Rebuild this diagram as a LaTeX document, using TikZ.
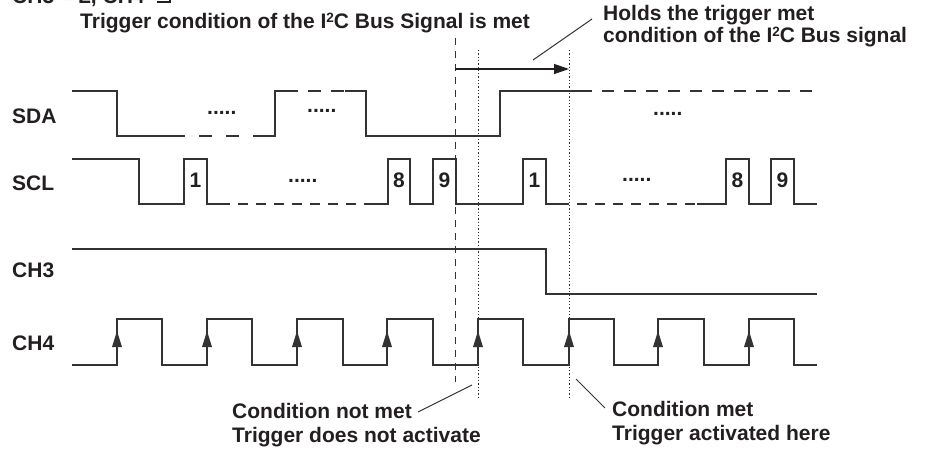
\documentclass[tikz,border=0pt]{standalone}
\usepackage{fontspec}
\setmainfont{Liberation Sans}
\usetikzlibrary{arrows.meta}
\definecolor{wavec}{HTML}{333333}
\definecolor{txtc}{HTML}{231F20}
\newcommand{\suptwo}{\raisebox{5.3pt}{\fontsize{13.5}{13.5}\selectfont 2}}
\begin{document}
\begin{tikzpicture}[x=1pt,y=-1pt,
  wave/.style={line width=1.3pt, draw=wavec, line join=miter},
  wdash/.style={wave, dash pattern=on 12pt off 10pt, dash phase=12pt},
  vdash/.style={line width=1pt, draw=wavec, dash pattern=on 7pt off 6pt},
  vdot/.style={line width=1pt, draw=wavec, dash pattern=on 1.3pt off 2pt},
  leader/.style={line width=1pt, draw=wavec},
  txt/.style={inner sep=0pt, anchor=base west, text=txtc, font=\fontsize{21}{24}\bfseries\selectfont},
  ctxt/.style={txt, anchor=base}]
\useasboundingbox (0,0) rectangle (926,450);
\clip (0,0) rectangle (926,450);

% top-left clipped text
\node[txt] (hdr) at (12,3) {CH3 = L, CH4 = };
\draw[line width=1.6pt, draw=txtc] (157,2) -- (170,2) -- (170,-20) -- (185,-20);

% titles
\node[txt] (t1) at (80,28) {Trigger condition of the I\suptwo C Bus Signal is met};
\node[txt] (h1) at (603,20) {Holds the trigger met};
\node[txt] (h2) at (603,42) {condition of the I\suptwo C Bus signal};

% channel labels
\node[txt] (lsda) at (12,123) {SDA};
\node[txt] (lscl) at (12,190) {SCL};
\node[txt] (lch3) at (12,277) {CH3};
\node[txt] (lch4) at (12,350) {CH4};

% SDA
\draw[wave] (72,91) -- (117,91) -- (117,136) -- (185,136);
\draw[wdash, dash pattern=on 13pt off 14pt, dash phase=13pt] (185,136) -- (253,136);
\draw[wave] (253,136) -- (275,136) -- (275,91) -- (298,91);
\draw[wdash, dash pattern=on 13pt off 10pt, dash phase=13pt] (298,91) -- (345,91);
\draw[wave] (345,91) -- (366,91) -- (366,136) -- (500,136) -- (500,91) -- (592,91);
\draw[wdash] (592,91) -- (818,91);
\node[txt] (d1) at (207,114) {.....};
\node[txt] (d2) at (307,112) {.....};
\node[txt] (d3) at (653,115) {.....};

% SCL
\draw[wave] (72,159) -- (139,159) -- (139,204) -- (184,204) -- (184,159) -- (207,159) -- (207,204) -- (230,204);
\draw[wdash, dash pattern=on 10pt off 8pt, dash phase=10pt] (230,204) -- (367,204);
\draw[wave] (367,204) -- (388,204) -- (388,159) -- (410,159) -- (410,204) -- (433,204) -- (433,159) -- (456,159) -- (456,204) -- (523,204) -- (523,159) -- (546,159) -- (546,204) -- (569,204);
\draw[wdash, dash pattern=on 10pt off 8pt, dash phase=10pt] (569,204) -- (697,204);
\draw[wave] (697,204) -- (726,204) -- (726,159) -- (749,159) -- (749,204) -- (771,204) -- (771,159) -- (794,159) -- (794,204) -- (817,204);
\node[ctxt] (n1a) at (195.5,187) {1};
\node[ctxt] (n8a) at (399,187) {8};
\node[ctxt] (n9a) at (444.5,187) {9};
\node[ctxt] (n1b) at (534.5,187) {1};
\node[ctxt] (n8b) at (737.5,187) {8};
\node[ctxt] (n9b) at (782.5,187) {9};
\node[txt] (d4) at (288,182) {.....};
\node[txt] (d5) at (622,181) {.....};

% CH3
\draw[wave] (72,249) -- (546,249) -- (546,294) -- (817,294);

% CH4
\draw[wave] (72,365) -| (117,319) -| (162,365) -| (207,319) -| (252,365) -| (297,319) -| (343,365) -| (387,319) -| (433,365) -| (478,319) -| (523,365) -| (569,319) -| (614,365) -| (658,319) -| (704,365) -| (749,319) -| (794,365) -- (817,365);
\foreach \x in {117,207,297,387,478,569,658,749}
  \fill[wavec] (\x-5,347) -- (\x+5,347) -- (\x,331) -- cycle;

% marker lines
\coordinate (vd1) at (455,38);
\coordinate (vd2) at (455,382);
\draw[vdash] (vd1) -- (vd2);
\coordinate (p1a) at (478,50);
\coordinate (p1b) at (478,398);
\draw[vdot] (p1a) -- (p1b);
\coordinate (p2a) at (569,50);
\coordinate (p2b) at (569,398);
\draw[vdot] (p2a) -- (p2b);

% hold arrow
\coordinate (ha) at (455,69);
\coordinate (hb) at (569,69);
\draw[line width=1.3pt, draw=txtc, -{Triangle[length=15pt,width=10pt]}] (ha) -- (hb);
\coordinate (l1a) at (533,60);
\coordinate (l1b) at (592,19);
\draw[leader] (l1a) -- (l1b);

% bottom annotations
\node[txt] (c1) at (232,418) {Condition not met};
\node[txt] (c2) at (232,442) {Trigger does not activate};
\node[txt] (c3) at (612,416) {Condition met};
\node[txt] (c4) at (612,440) {Trigger activated here};
\coordinate (l2a) at (418,412);
\coordinate (l2b) at (472,385);
\draw[leader] (l2a) -- (l2b);
\coordinate (l3a) at (576,379);
\coordinate (l3b) at (605,408);
\draw[leader] (l3a) -- (l3b);
\end{tikzpicture}
\end{document}
